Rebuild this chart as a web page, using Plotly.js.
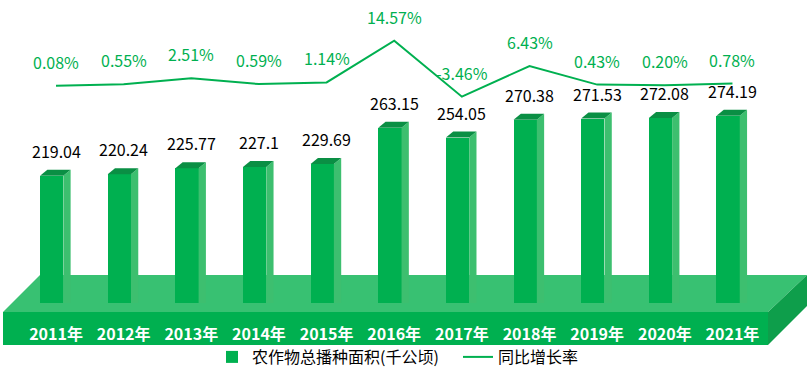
<!DOCTYPE html>
<html>
<head>
<meta charset="utf-8">
<script src="https://cdn.plot.ly/plotly-3.0.1.min.js"></script>
<style>html,body{margin:0;padding:0;background:#fff;}#chart{width:807px;height:367px;}</style>
</head>
<body>
<div id="chart"></div>
<script>
// ---- data ----
const years = ['2011年','2012年','2013年','2014年','2015年','2016年','2017年','2018年','2019年','2020年','2021年'];
const area = [219.04, 220.24, 225.77, 227.1, 229.69, 263.15, 254.05, 270.38, 271.53, 272.08, 274.19];
const areaLabels = ['219.04','220.24','225.77','227.1','229.69','263.15','254.05','270.38','271.53','272.08','274.19'];
const growth = [0.08, 0.55, 2.51, 0.59, 1.14, 14.57, -3.46, 6.43, 0.43, 0.20, 0.78];
const growthLabels = ['0.08%','0.55%','2.51%','0.59%','1.14%','14.57%','-3.46%','6.43%','0.43%','0.20%','0.78%'];
const seriesNames = ['农作物总播种面积(千公顷)', '同比增长率'];

// ---- style ----
const W = 807, H = 367;
const GREEN = '#00B050';
const BAR_SIDE = '#3DBF6F';
const BAR_TOP = '#0A8F44';
const idx = years.map((_, i) => i);
const barW = 0.344, barOff = -0.236, depthX = 0.108, depthY = 5.5;
const px = (x) => x / W, py = (y) => 1 - y / H;

const shapes = [];
// platform (decorative base)
function poly(pts, color) {
  return {type: 'path', xref: 'paper', yref: 'paper', layer: 'below', line: {width: 0}, fillcolor: color,
    path: 'M' + pts.map(p => px(p[0]) + ',' + py(p[1])).join('L') + 'Z'};
}
shapes.push(poly([[3,312],[40,275],[807,275],[768,312]], '#38C172'));
shapes.push(poly([[3,312],[768,312],[768,345],[3,345]], GREEN));
shapes.push(poly([[768,312],[807,275],[807,306],[768,345]], '#0E9E4B'));

// 3D faces of bars, built from data
idx.forEach((i) => {
  const v = area[i];
  const xl = i + barOff, xr = i + barOff + barW;
  shapes.push({type: 'path', xref: 'x', yref: 'y', layer: 'above', line: {width: 0}, fillcolor: BAR_SIDE,
    path: `M${xr},${v}L${xr + depthX},${v + depthY}L${xr + depthX},0L${xr},0Z`});
  shapes.push({type: 'path', xref: 'x', yref: 'y', layer: 'above', line: {width: 0}, fillcolor: BAR_TOP,
    path: `M${xl},${v}L${xr},${v}L${xr + depthX},${v + depthY}L${xl + depthX},${v + depthY}Z`});
});

const annotations = [];
idx.forEach((i) => {
  annotations.push({x: i, y: area[i], xref: 'x', yref: 'y', text: areaLabels[i], showarrow: false, yshift: 25,
    font: {size: 16, color: '#000'}});
  annotations.push({x: i, y: growth[i], xref: 'x', yref: 'y2', text: growthLabels[i], showarrow: false, yshift: 24,
    font: {size: 16, color: GREEN}});
});

const traces = [
  {type: 'bar', x: idx, y: area, name: seriesNames[0], width: barW, offset: barOff,
   marker: {color: GREEN, line: {width: 0}}, legend: 'legend', hoverinfo: 'x+y'},
  {type: 'scatter', mode: 'lines', x: idx, y: growth, name: seriesNames[1], yaxis: 'y2',
   line: {color: GREEN, width: 2}, legend: 'legend2'}
];

const layout = {
  width: W, height: H,
  margin: {l: 0, r: 0, t: 0, b: 0, pad: 0, autoexpand: false},
  paper_bgcolor: 'rgba(0,0,0,0)', plot_bgcolor: 'rgba(0,0,0,0)',
  font: {family: '"Noto Sans CJK SC", "Noto Sans", sans-serif', size: 16, color: '#000'},
  xaxis: {range: [-0.828, 11.102], tickvals: idx, ticktext: years, showgrid: false, zeroline: false, showline: false,
    automargin: false, ticks: '', ticklabelstandoff: 20, tickfont: {size: 16, color: '#fff', weight: 'bold'}, fixedrange: true},
  yaxis: {domain: [64 / H, 1], range: [102.0, 380.5], visible: false, fixedrange: true, automargin: false},
  yaxis2: {overlaying: 'y', range: [-69.88, 27.67], visible: false, fixedrange: true, automargin: false},
  bargap: 0,
  showlegend: true,
  legend: {x: px(212), y: py(357), xanchor: 'left', yanchor: 'middle', orientation: 'h', bgcolor: 'rgba(0,0,0,0)',
    font: {size: 16, color: '#000'}},
  legend2: {x: px(458), y: py(357), xanchor: 'left', yanchor: 'middle', orientation: 'h', bgcolor: 'rgba(0,0,0,0)',
    font: {size: 16, color: '#000'}},
  shapes: shapes,
  annotations: annotations
};

Plotly.newPlot('chart', traces, layout, {displayModeBar: false, staticPlot: true});
</script>
</body>
</html>
